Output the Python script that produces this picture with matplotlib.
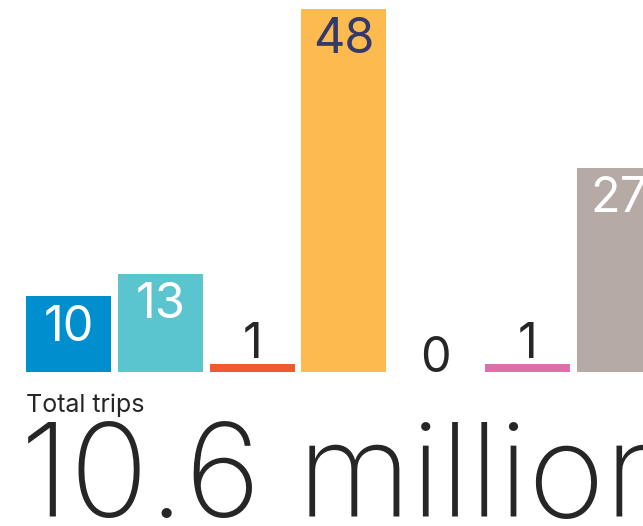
import matplotlib.pyplot as plt

values = [10, 13, 1, 48, 0, 1, 27]
colors = ['#008fce', '#5bc5cf', '#f15a31', '#fdba4e', '#f0f0f0', '#dd6fa9', '#b5aaa6']
label_colors = ['white', 'white', '#262626', '#33396b', '#262626', '#262626', 'white']
inside = [True, True, False, True, False, False, True]
caption = 'Total trips'
total = '10.6 million'

plt.rcParams['font.family'] = ['Inter', 'DejaVu Sans']

fig = plt.figure(figsize=(6.43, 5.26), dpi=100)
ax = fig.add_axes([0, 0, 1, 1])
xs = list(range(len(values)))
ax.bar(xs, values, width=0.926, color=colors, linewidth=0)
for x, v, c, ins in zip(xs, values, label_colors, inside):
    if ins:
        ax.annotate(str(v), (x, v), xytext=(0, -6), textcoords='offset points',
                    ha='center', va='top', fontsize=35, color=c)
    else:
        off = 5 if v > 0 else 0
        ax.annotate(str(v), (x, v), xytext=(0, off), textcoords='offset points',
                    ha='center', va='baseline', fontsize=35, color=c)

ax.set_xlim(-0.746, 6.258)
ax.set_ylim(-20.34, 49.14)
ax.axis('off')

fig.text(26 / 643, 1 - 412 / 526, caption, fontsize=18, color='#262626',
         ha='left', va='baseline')
fig.text(20 / 643, 1 - 517 / 526, total, fontsize=94, color='#262626',
         ha='left', va='baseline', fontweight='light')

fig.savefig('out.png', dpi=100)
